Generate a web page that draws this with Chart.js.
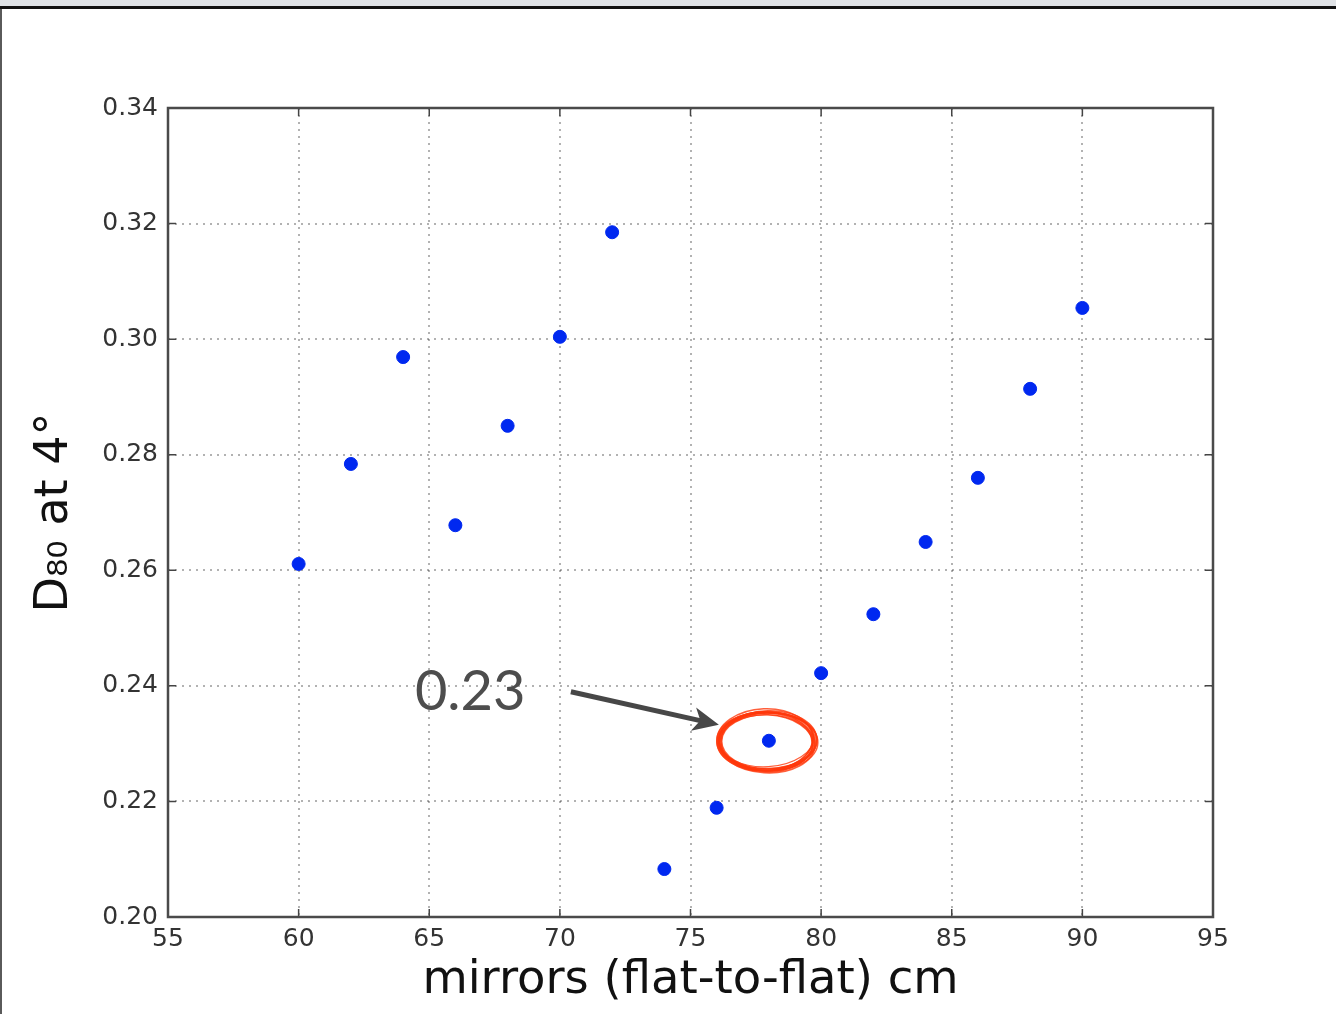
<!DOCTYPE html>
<html>
<head>
<meta charset="utf-8">
<script src="https://cdn.jsdelivr.net/npm/chart.js@4/dist/chart.umd.min.js"></script>
<style>
  html, body { margin: 0; padding: 0; background: #fff; }
  #wrap { position: absolute; left: 0; top: 0; width: 1336px; height: 1014px; }
</style>
</head>
<body>
<div id="wrap"><canvas id="chart"></canvas></div>
<script>
// ---- data ----
const mirrorSizes = [60, 62, 64, 66, 68, 70, 72, 74, 76, 78, 80, 82, 84, 86, 88, 90];
const d80Values   = [0.2611, 0.2784, 0.2969, 0.2678, 0.2850, 0.3004, 0.3185, 0.2083,
                     0.2189, 0.2305, 0.2422, 0.2524, 0.2649, 0.2760, 0.2914, 0.3054];
const xTicks = [55, 60, 65, 70, 75, 80, 85, 90, 95];
const yTicks = [0.20, 0.22, 0.24, 0.26, 0.28, 0.30, 0.32, 0.34];
const highlightIndex = 9;      // the 78 cm point
const highlightLabel = "0.23";

const points = mirrorSizes.map((x, i) => ({ x: x, y: d80Values[i] }));

// frame, inner ticks, the arrow + circled point, and the window edge
const extras = {
    id: "extras",
    beforeDraw(chart) {
        const ctx = chart.ctx;
        ctx.save();
        ctx.fillStyle = "#fff";
        ctx.fillRect(0, 0, chart.width, chart.height);
        ctx.restore();
    },
    afterDatasetsDraw(chart) {
        const ctx = chart.ctx;
        const a = chart.chartArea;
        const xs = chart.scales.x, ys = chart.scales.y;

        ctx.save();
        // inner tick marks (all four sides, like matplotlib)
        ctx.strokeStyle = "#444";
        ctx.lineWidth = 1.5;
        const tl = 8;
        ctx.beginPath();
        xTicks.forEach(v => {
            const px = xs.getPixelForValue(v);
            ctx.moveTo(px, a.bottom); ctx.lineTo(px, a.bottom - tl);
            ctx.moveTo(px, a.top); ctx.lineTo(px, a.top + tl);
        });
        yTicks.forEach(v => {
            const py = ys.getPixelForValue(v);
            ctx.moveTo(a.left, py); ctx.lineTo(a.left + tl, py);
            ctx.moveTo(a.right, py); ctx.lineTo(a.right - tl, py);
        });
        ctx.stroke();

        // plot frame
        ctx.strokeStyle = "#4a4a4a";
        ctx.lineWidth = 2.5;
        ctx.strokeRect(a.left, a.top, a.right - a.left, a.bottom - a.top);

        // annotation around the highlighted point
        const hx = xs.getPixelForValue(mirrorSizes[highlightIndex]);
        const hy = ys.getPixelForValue(d80Values[highlightIndex]);

        // sketchy red ellipse
        ctx.strokeStyle = "rgba(255,55,10,0.8)";
        const loops = [
            [0, 0, 48, 29, 0.00, 2.2], [-1, 1, 47, 30, 0.03, 1.6], [1, 0, 49, 28, -0.02, 1.8],
            [0, 2, 46, 28, 0.05, 1.4], [-2, -1, 48, 31, -0.04, 1.6], [1, 1, 50, 29, 0.02, 1.4],
            [0, -1, 47, 27, -0.06, 1.2], [-1, 2, 49, 30, 0.06, 1.8], [0, 1, 45, 27, 0.01, 1.2],
            [2, 0, 48, 30, -0.03, 1.5]
        ];
        loops.forEach(l => {
            ctx.lineWidth = l[5];
            ctx.beginPath();
            ctx.ellipse(hx - 2 + l[0], hy + l[1], l[2], l[3], l[4], 0, Math.PI * 2);
            ctx.stroke();
        });

        // arrow
        const x0 = hx - 198, y0 = hy - 49;
        const x1 = hx - 50, y1 = hy - 16;
        const ang = Math.atan2(y1 - y0, x1 - x0);
        const dx = Math.cos(ang), dy = Math.sin(ang);
        const nx = -dy, ny = dx;
        const head = 26, half = 12;
        const bx = x1 - head * dx, by = y1 - head * dy;
        ctx.strokeStyle = "#474747";
        ctx.fillStyle = "#474747";
        ctx.lineWidth = 5;
        ctx.beginPath();
        ctx.moveTo(x0, y0);
        ctx.lineTo(bx + 8 * dx, by + 8 * dy);
        ctx.stroke();
        ctx.beginPath();
        ctx.moveTo(x1, y1);
        ctx.lineTo(bx + half * nx, by + half * ny);
        ctx.lineTo(bx + 7 * dx, by + 7 * dy);
        ctx.lineTo(bx - half * nx, by - half * ny);
        ctx.closePath();
        ctx.fill();

        // label
        ctx.fillStyle = "#4d4d4d";
        ctx.font = "56px Lato";
        ctx.textAlign = "left";
        ctx.textBaseline = "alphabetic";
        ctx.fillText(highlightLabel, hx - 354, hy - 31);
        ctx.restore();
    },
    afterDraw(chart) {
        // window chrome of the screenshot
        const ctx = chart.ctx;
        ctx.save();
        ctx.fillStyle = "#dfe2e6";
        ctx.fillRect(0, 0, chart.width, 6);
        ctx.fillStyle = "#111";
        ctx.fillRect(0, 6, chart.width, 3);
        ctx.fillStyle = "#5a5a5a";
        ctx.fillRect(0, 9, 2, chart.height - 9);
        ctx.restore();
    }
};

new Chart(document.getElementById("chart"), {
    type: "scatter",
    data: {
        datasets: [{
            label: "D80",
            data: points,
            backgroundColor: "rgb(0,40,240)",
            borderColor: "rgb(0,40,240)",
            pointRadius: 6.5,
            pointHoverRadius: 6.5
        }]
    },
    options: {
        responsive: true,
        maintainAspectRatio: false,
        animation: false,
        events: [],
        layout: { padding: { left: 0, right: 123, top: 108, bottom: 0 } },
        plugins: {
            legend: { display: false },
            tooltip: { enabled: false }
        },
        scales: {
            x: {
                type: "linear",
                min: 55,
                max: 95,
                afterBuildTicks: s => { s.ticks = xTicks.map(v => ({ value: v })); },
                afterFit: s => { s.height = 97; },
                border: { display: false, dash: [2, 5] },
                grid: {
                    color: "rgba(0,0,0,0.3)",
                    lineWidth: 2,
                    drawTicks: false
                },
                ticks: {
                    padding: 7,
                    color: "#333",
                    font: { family: "DejaVu Sans", size: 25 },
                    maxRotation: 0,
                    callback: v => String(v)
                },
                title: {
                    display: true,
                    text: "mirrors (flat-to-flat) cm",
                    color: "#111",
                    font: { family: "DejaVu Sans", size: 46.5 },
                    padding: { top: 0, bottom: 5 }
                }
            },
            y: {
                type: "linear",
                min: 0.20,
                max: 0.34,
                afterBuildTicks: s => { s.ticks = yTicks.map(v => ({ value: v })); },
                afterFit: s => { s.width = 168; },
                border: { display: false, dash: [2, 5] },
                grid: {
                    color: "rgba(0,0,0,0.3)",
                    lineWidth: 2,
                    drawTicks: false
                },
                ticks: {
                    padding: 10,
                    color: "#333",
                    font: { family: "DejaVu Sans", size: 25 },
                    callback: v => Number(v).toFixed(2)
                },
                title: {
                    display: true,
                    text: "D\u2088\u2080 at 4\u00b0",
                    color: "#111",
                    font: { family: "DejaVu Sans", size: 46 },
                    padding: { top: 27, bottom: 0 }
                }
            }
        }
    },
    plugins: [extras]
});
</script>
</body>
</html>
